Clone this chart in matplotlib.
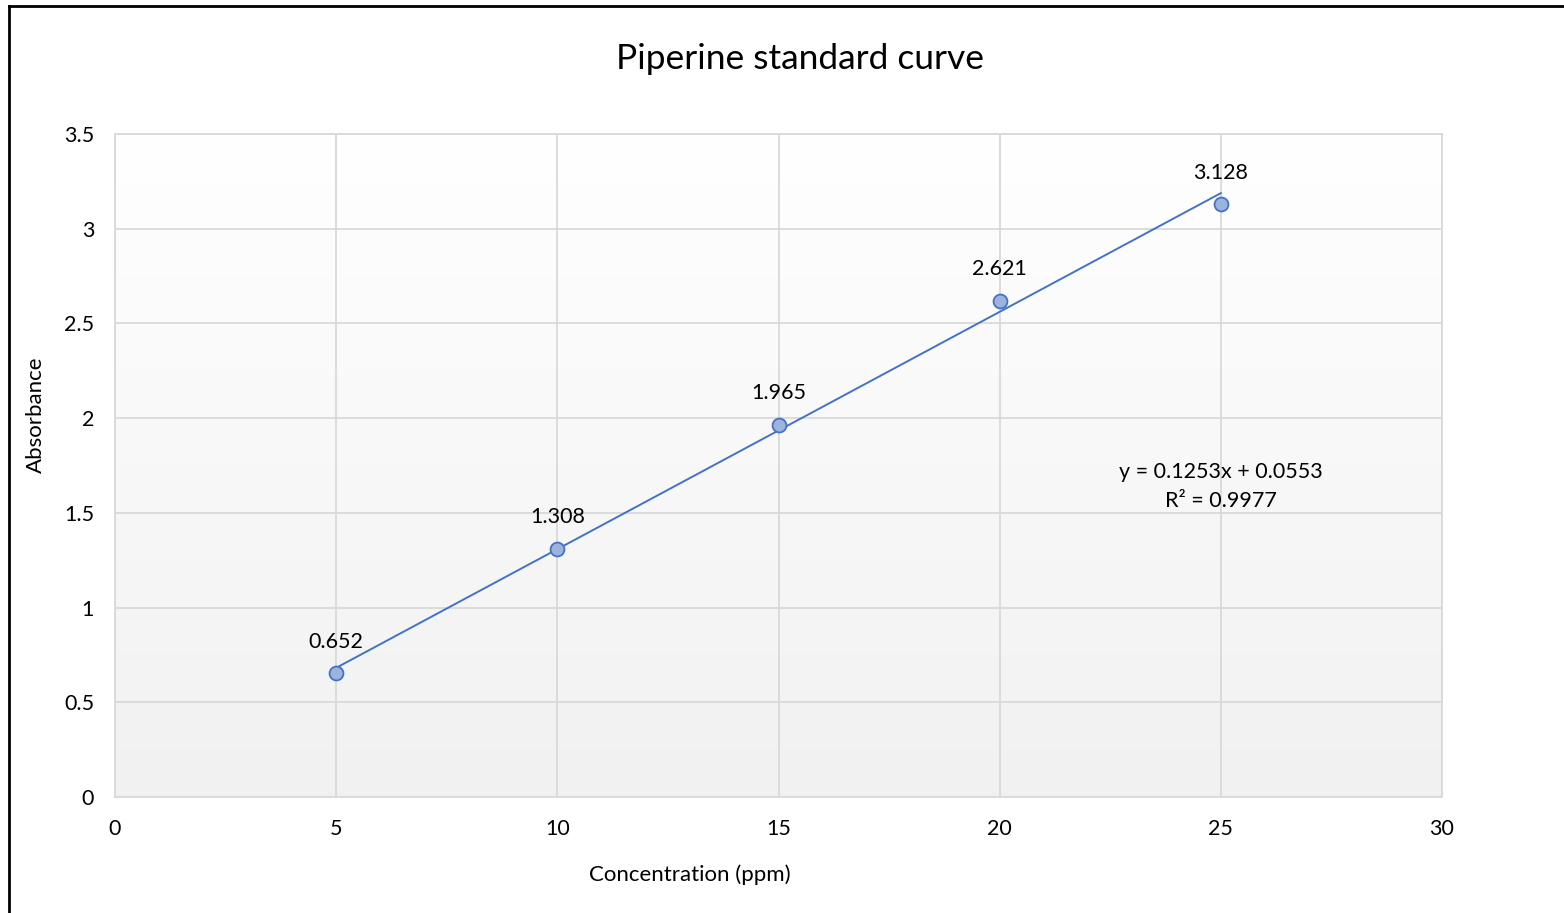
import matplotlib.pyplot as plt
from matplotlib.lines import Line2D
import numpy as np

plt.rcParams['font.family'] = ['Lato', 'DejaVu Sans']

# dados da curva padrão
concentracao = [5, 10, 15, 20, 25]
absorbancia = [0.652, 1.308, 1.965, 2.621, 3.128]
x_ticks = [0, 5, 10, 15, 20, 25, 30]
y_ticks = [0, 0.5, 1, 1.5, 2, 2.5, 3, 3.5]

azul = '#4472C4'

fig = plt.figure(figsize=(15.64, 9.13), dpi=100)
ax = fig.add_axes([115 / 1564, 1 - 797 / 913, (1442 - 115) / 1564, (797 - 134) / 913])

# fundo em degradê (branco em cima, cinza claro embaixo)
grad = np.linspace(1.0, 0.945, 256).reshape(-1, 1)
grad_rgb = np.dstack([grad, grad, grad])
ax.imshow(grad_rgb, extent=[0, 30, 0, 3.5], aspect='auto', zorder=0, origin='upper')
ax.set_xlim(0, 30)
ax.set_ylim(0, 3.5)

ax.set_xticks(x_ticks)
ax.set_yticks(y_ticks)
ax.set_xticklabels([str(t) for t in x_ticks])
ax.set_yticklabels([f"{t:g}" for t in y_ticks])
ax.tick_params(length=0, labelsize=15.5, colors='#000000')
ax.tick_params(axis='y', pad=15)
ax.tick_params(axis='x', pad=16)
ax.grid(True, color='#d9d9d9', linewidth=1.3, zorder=1)
ax.set_axisbelow(True)
for s in ax.spines.values():
    s.set_color('#d9d9d9')
    s.set_linewidth(1.3)

# linha de tendência linear
coef = np.polyfit(concentracao, absorbancia, 1)
xs = np.array([concentracao[0], concentracao[-1]])
ax.plot(xs, np.polyval(coef, xs), color=azul, linewidth=1.4, zorder=3)

ax.plot(concentracao, absorbancia, 'o', markersize=10, markerfacecolor='#9bb3dd',
        markeredgecolor=azul, markeredgewidth=1.3, zorder=4)

for cx, ab in zip(concentracao, absorbancia):
    ax.annotate(f"{ab:g}", (cx, ab), xytext=(0, 23), textcoords='offset points',
                ha='center', va='center', fontsize=15.5, zorder=5)

ax.text(25, 1.64, "y = 0.1253x + 0.0553\nR² = 0.9977", ha='center', va='center',
        fontsize=15.5, linespacing=1.6, zorder=5)

fig.text(800 / 1564, 1 - 59 / 913, "Piperine standard curve", ha='center', va='center', fontsize=25.5)
fig.text(690 / 1564, 1 - 875 / 913, "Concentration (ppm)", ha='center', va='center', fontsize=16)
fig.text(36 / 1564, 1 - 415 / 913, "Absorbance", ha='center', va='center', fontsize=16, rotation=90)

# borda do gráfico (esquerda e topo)
bx, by = 9 / 1564, 1 - 6 / 913
fig.add_artist(Line2D([bx, bx], [by, 0], color='black', linewidth=2, transform=fig.transFigure))
fig.add_artist(Line2D([bx, 1], [by, by], color='black', linewidth=2, transform=fig.transFigure))

fig.savefig('out.png', dpi=100)
